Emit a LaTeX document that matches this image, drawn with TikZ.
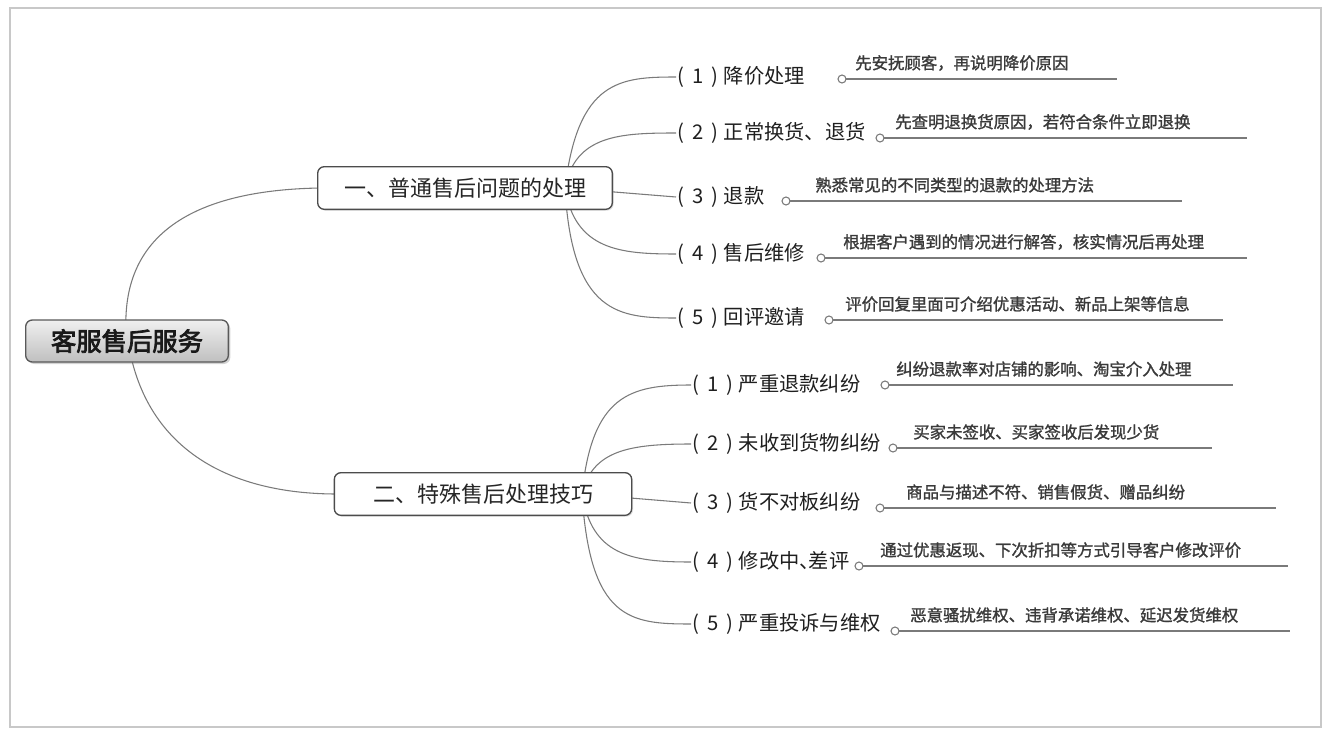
\documentclass[tikz,border=0pt]{standalone}
\usepackage{fontspec}
\newfontfamily\cjk{Noto Sans CJK SC}
\newfontfamily\cjkb[FakeBold=1.4]{Noto Sans CJK SC}
\newfontfamily\cjkB[FakeBold=3]{Noto Sans CJK SC}
\usetikzlibrary{shadows}
\definecolor{linec}{HTML}{7A7A7A}
\definecolor{desc}{HTML}{3A3A3A}
\definecolor{frame}{HTML}{C8C8C8}
\tikzset{
  rootbox/.style={draw=gray!70!black, line width=1pt, rounded corners=5pt,
    top color=gray!12, bottom color=gray!50, minimum width=152pt, minimum height=31.5pt,
    font=\cjkB\fontsize{19}{21}\selectfont, text=black!90,
    drop shadow={shadow xshift=1.5pt, shadow yshift=-1.5pt, opacity=0.35}},
  branchbox/.style={draw=black!70, line width=1pt, rounded corners=5pt, fill=white,
    minimum height=32pt, inner xsep=6pt, font=\cjk\fontsize{16.5}{19}\selectfont, text=black!85,
    drop shadow={shadow xshift=1pt, shadow yshift=-1pt, opacity=0.25}},
  item/.style={anchor=west, inner sep=1pt, font=\cjk\fontsize{15.2}{17}\selectfont, text=black!88},
  descr/.style={anchor=west, inner sep=0pt, font=\cjkb\fontsize{12.3}{14}\selectfont, text=desc},
  conn/.style={draw=linec, line width=0.8pt},
  uline/.style={draw=linec, line width=1.1pt},
  dot/.style={draw=linec, fill=white, line width=0.8pt},
}
\newcommand{\lbl}[2]{(\hspace{0.4em}#1\hspace{0.4em})\hspace{0.25em}#2}
\begin{document}
\begin{tikzpicture}[x=0.75pt,y=-0.75pt]
\useasboundingbox (0,0) rectangle (1331,735);
\draw[frame, line width=0.8pt] (10,8) rectangle (1321,727);

\coordinate (r1) at (126,330);
\coordinate (r2) at (130,352);
\coordinate (b1s) at (565,188);
\coordinate (b2s) at (582,494);

\node[item] (i1) at (676,77) {\lbl{1}{降价处理}};
\node[item] (i2) at (676,133) {\lbl{2}{正常换货、退货}};
\node[item] (i3) at (676,197) {\lbl{3}{退款}};
\node[item] (i4) at (676,254) {\lbl{4}{售后维修}};
\node[item] (i5) at (676,318) {\lbl{5}{回评邀请}};

\node[item] (j1) at (691,385) {\lbl{1}{严重退款纠纷}};
\node[item] (j2) at (691,444) {\lbl{2}{未收到货物纠纷}};
\node[item] (j3) at (691,503) {\lbl{3}{货不对板纠纷}};
\node[item] (j4) at (691,562) {\lbl{4}{修改中、\hspace{-0.55em}差评}};
\node[item] (j5) at (691,624) {\lbl{5}{严重投诉与维权}};

\draw[conn] (r1) .. controls (122,230) and (200,190) .. (320,188);
\draw[conn] (r2) .. controls (150,450) and (230,494) .. (337,494);

\draw[conn] (b1s) .. controls (578,80) and (620,77) .. (i1.west);
\draw[conn] (b1s) .. controls (575,135) and (620,133) .. (i2.west);
\draw[conn] (b1s) -- (i3.west);
\draw[conn] (b1s) .. controls (575,250) and (620,254) .. (i4.west);
\draw[conn] (b1s) .. controls (572,315) and (620,318) .. (i5.west);

\draw[conn] (b2s) .. controls (592,395) and (630,385) .. (j1.west);
\draw[conn] (b2s) .. controls (592,450) and (630,444) .. (j2.west);
\draw[conn] (b2s) -- (j3.west);
\draw[conn] (b2s) .. controls (592,555) and (630,562) .. (j4.west);
\draw[conn] (b2s) .. controls (590,620) and (630,624) .. (j5.west);

\node[rootbox] (root) at (127,341) {客服售后服务};
\node[branchbox, minimum width=221pt] (b1) at (465,188) {一、普通售后问题的处理};
\node[branchbox, minimum width=223pt] (b2) at (483,494) {二、特殊售后处理技巧};

\newcommand{\descline}[6]{% name, dotx, liney, endx, textx, text
  \coordinate (#1s) at (#2,#3);
  \coordinate (#1e) at (#4,#3);
  \draw[uline] (#1s) -- (#1e);
  \node[descr] (#1t) at (#5,#3-16) {#6};
  \draw[dot] (#1s) circle (4);
}
\descline{d1}{842}{79}{1117}{855}{先安抚顾客，再说明降价原因}
\descline{d2}{880}{138}{1247}{895}{先查明退换货原因，若符合条件立即退换}
\descline{d3}{786}{201}{1182}{815}{熟悉常见的不同类型的退款的处理方法}
\descline{d4}{821}{258}{1247}{843}{根据客户遇到的情况进行解答，核实情况后再处理}
\descline{d5}{829}{320}{1223}{845}{评价回复里面可介绍优惠活动、新品上架等信息}

\descline{e1}{885}{385}{1233}{896}{纠纷退款率对店铺的影响、淘宝介入处理}
\descline{e2}{893}{448}{1212}{913}{买家未签收、买家签收后发现少货}
\descline{e3}{880}{508}{1276}{906}{商品与描述不符、销售假货、赠品纠纷}
\descline{e4}{859}{566}{1288}{880}{通过优惠返现、下次折扣等方式引导客户修改评价}
\descline{e5}{895}{631}{1290}{910}{恶意骚扰维权、违背承诺维权、延迟发货维权}
\end{tikzpicture}
\end{document}
